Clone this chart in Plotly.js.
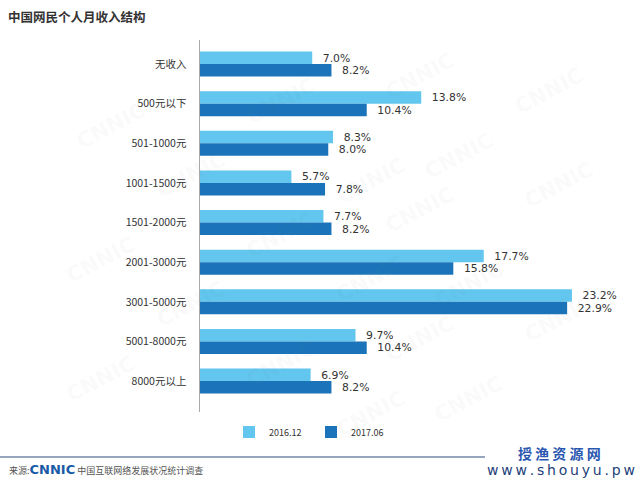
<!DOCTYPE html>
<html>
<head>
<meta charset="utf-8">
<script src="https://cdn.plot.ly/plotly-3.0.1.min.js"></script>
<style>html,body{margin:0;padding:0;background:#fff;}#chart{width:640px;height:480px;}</style>
</head>
<body>
<div id="chart"></div>
<script>
var categories = ["无收入","500元以下","501-1000元","1001-1500元","1501-2000元","2001-3000元","3001-5000元","5001-8000元","8000元以上"];
var seriesNames = ["2016.12","2017.06"];
var values2016 = [7.0,13.8,8.3,5.7,7.7,17.7,23.2,9.7,6.9];
var values2017 = [8.2,10.4,8.0,7.8,8.2,15.8,22.9,10.4,8.2];
var colors = ["#62c6ee","#1b74ba"];

var labelFont = {family:"DejaVu Sans, Noto Sans CJK SC", size:13, color:"#333"};
function mk(name, vals, color){
  return {
    type:"bar", orientation:"h", name:name,
    y:categories, x:vals,
    marker:{color:color},
    text:vals.map(function(v){return "\u2002\u2009"+v.toFixed(1)+"%";}),
    textposition:"outside", textfont:labelFont, cliponaxis:false,
    hoverinfo:"x+y"
  };
}
var data = [mk(seriesNames[0], values2016, colors[0]), mk(seriesNames[1], values2017, colors[1])];

// faint background watermark (pixel positions in the page)
var wmPos = [[70,95],[240,70],[420,45],[590,60],[150,175],[330,150],[500,125],[60,260],[240,235],[420,210],[600,185],[150,335],[330,310],[510,285],[60,410],[240,395],[420,370],[600,350],[330,445],[510,430]];
function px2paper(x,y){ return {x:(x-200)/400, y:(412-y)/372}; }

var annotations = wmPos.map(function(p){
  var q = px2paper(p[0],p[1]);
  return {xref:"paper", yref:"paper", x:q.x, y:q.y, showarrow:false, textangle:-28,
          text:"<b>CNNIC</b>", font:{family:"DejaVu Sans", size:21, color:"rgba(120,120,120,0.05)"}};
});
annotations.push(
  {xref:"paper", yref:"paper", x:(7-200)/400, y:(412-469)/372, xanchor:"left", yanchor:"middle", showarrow:false,
   text:"<span style='color:#555'>来源:</span><b><span style='color:#1a5aa6;font-size:13px;font-family:DejaVu Sans'>CNNIC</span></b> <span style='color:#555'>中国互联网络发展状况统计调查</span>",
   font:{family:"Noto Sans CJK SC", size:9, color:"#555"}},
  {xref:"paper", yref:"paper", x:(559-200)/400, y:(412-453)/372, xanchor:"center", yanchor:"middle", showarrow:false,
   text:"<b>授 渔 资 源 网</b>", font:{family:"Noto Sans CJK SC", size:14, color:"#2a57b0"}},
  {xref:"paper", yref:"paper", x:(561-200)/400, y:(412-470)/372, xanchor:"center", yanchor:"middle", showarrow:false,
   text:"w\u2009w\u2009w\u2009.\u2009s\u2009h\u2009o\u2009u\u2009y\u2009u\u2009.\u2009p\u2009w", font:{family:"DejaVu Sans", size:14, color:"#1e3f7a"}}
);

var layout = {
  width:640, height:480,
  margin:{l:200, r:40, t:40, b:68},
  paper_bgcolor:"#fff", plot_bgcolor:"rgba(0,0,0,0)",
  barmode:"group", bargap:0.37, bargroupgap:0,
  font:{family:"Noto Sans CJK SC", color:"#333"},
  title:{text:"<b>中国网民个人月收入结构</b>", x:8/640, xanchor:"left", xref:"container", y:1-18/480, yanchor:"middle", yref:"container", font:{size:12.5, color:"#333", family:"Noto Sans CJK SC"}},
  xaxis:{range:[0,24.95], showgrid:false, zeroline:false, showticklabels:false, showline:false, fixedrange:true},
  yaxis:{type:"category", categoryarray:categories, categoryorder:"array", range:[8.78,-0.606], autorange:false,
         showgrid:false, zeroline:false, showline:true, linecolor:"#aaaaaa", linewidth:1.5,
         ticks:"", ticklabelstandoff:10, tickfont:{family:"Noto Sans CJK SC", size:10.5, color:"#333"}},
  showlegend:true,
  legend:{orientation:"h", xref:"container", yref:"container", x:229/640, xanchor:"left", y:1-432/480, yanchor:"middle",
          entrywidth:37, entrywidthmode:"pixels",
          font:{family:"Noto Sans CJK SC", size:9, color:"#333"}, bgcolor:"rgba(0,0,0,0)"},
  shapes:[
    {type:"line", xref:"paper", yref:"paper", x0:-200/400, x1:(485-200)/400, y0:(412-457)/372, y1:(412-457)/372, line:{color:"#2d4f7c", width:1.2}}
  ],
  annotations:annotations
};
Plotly.newPlot("chart", data, layout, {displayModeBar:false, staticPlot:true});
</script>
</body>
</html>
